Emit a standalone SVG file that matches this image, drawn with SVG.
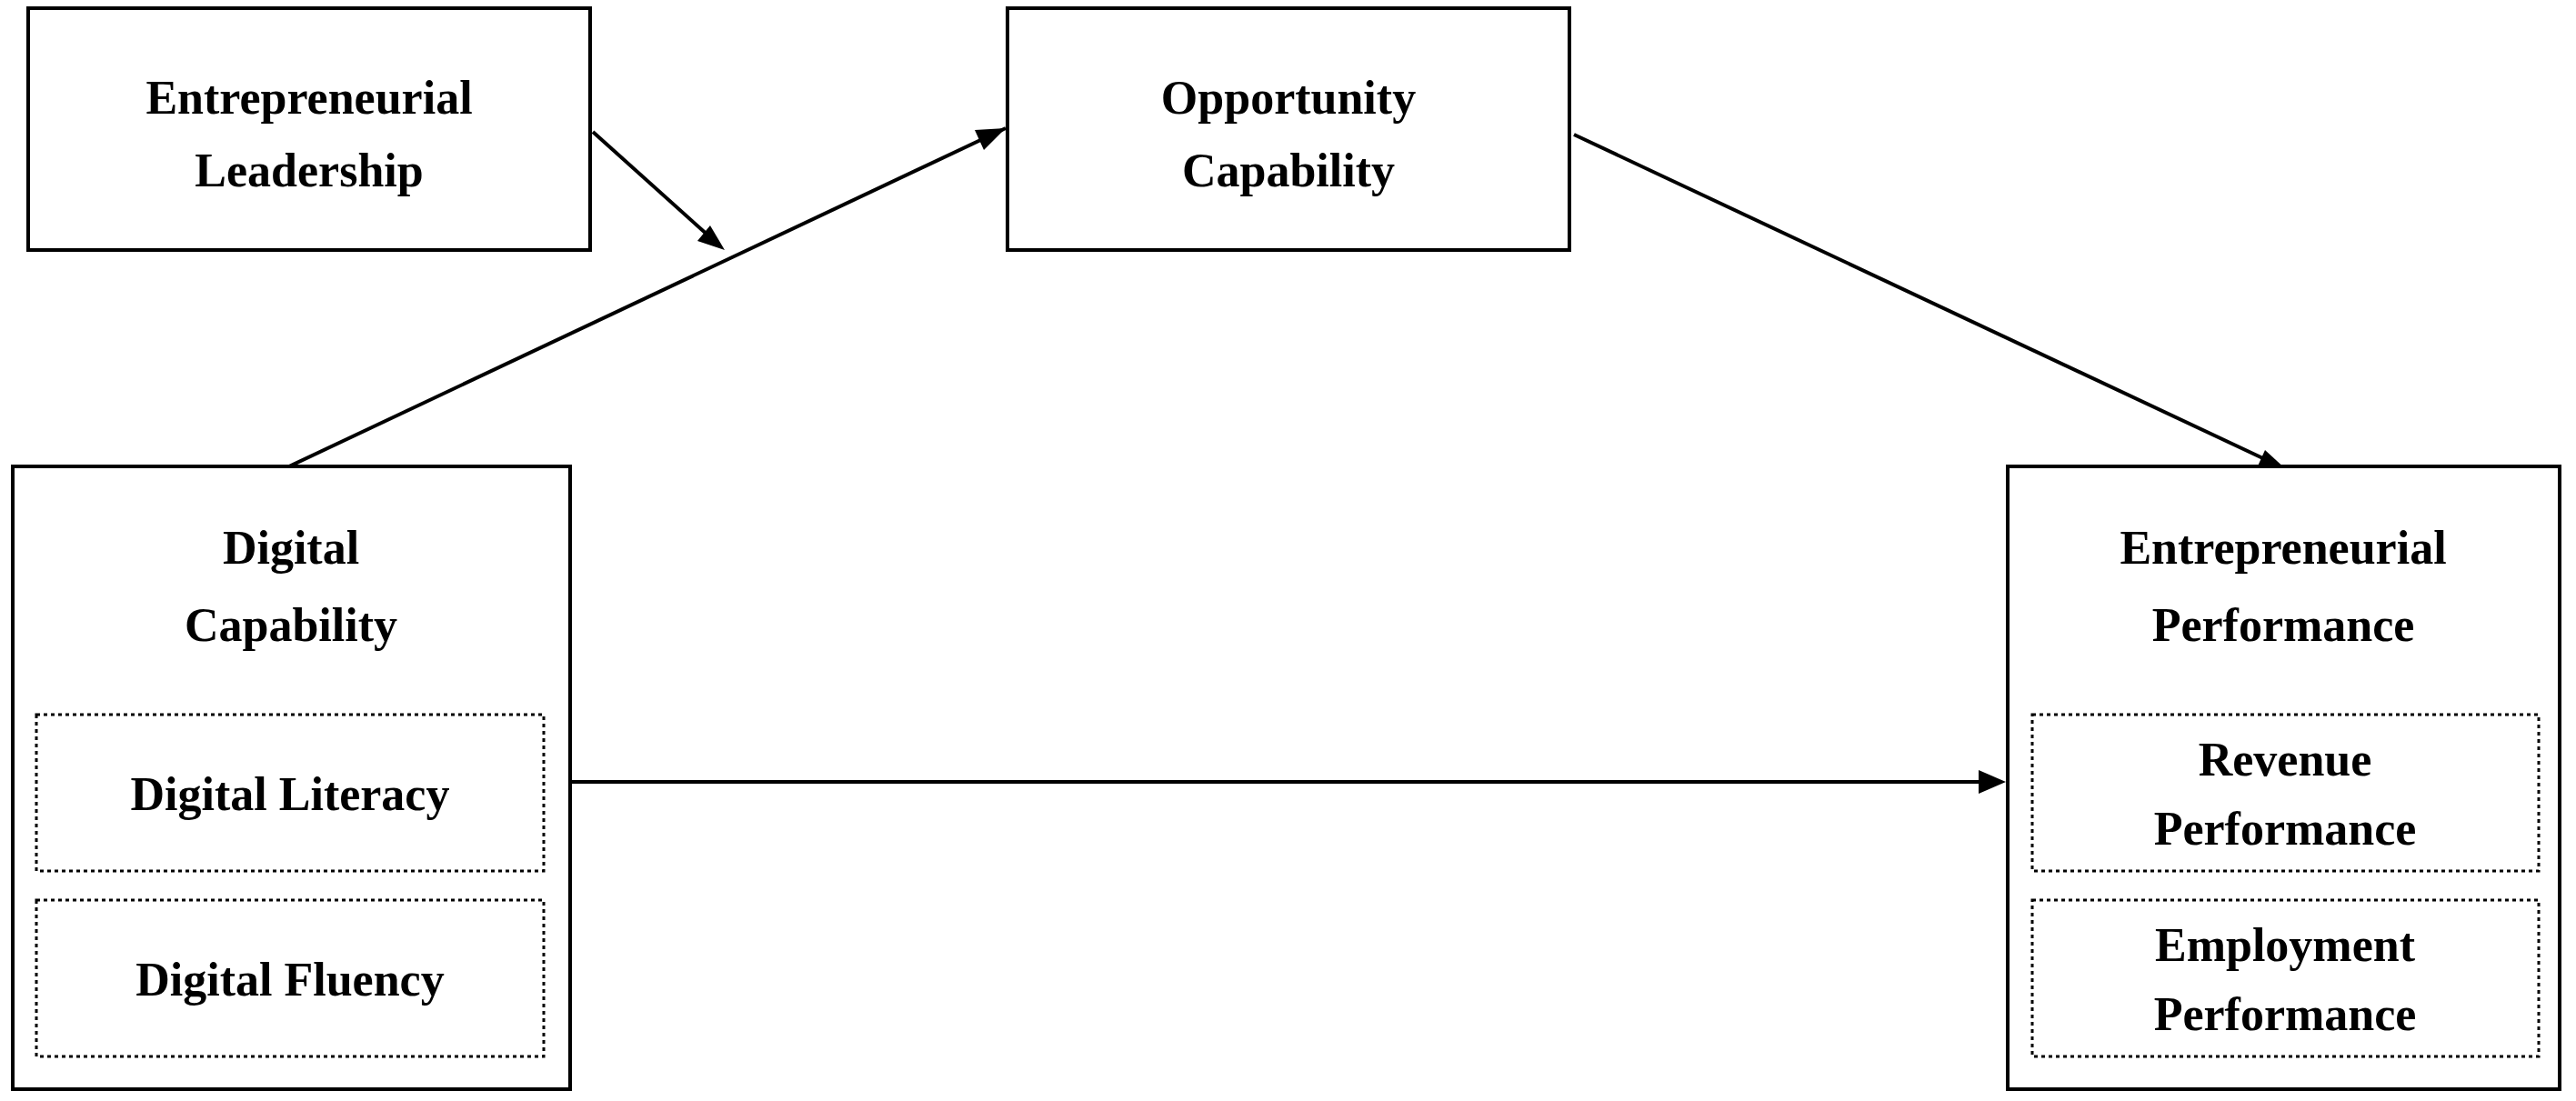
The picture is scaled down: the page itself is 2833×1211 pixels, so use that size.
<svg xmlns="http://www.w3.org/2000/svg" width="2833" height="1211" viewBox="0 0 2833 1211">
<style>
.b{fill:#fff;stroke:#000;stroke-width:4}
.d{fill:none;stroke:#000;stroke-width:3;stroke-dasharray:4 4}
text{font-family:"Liberation Serif","Times New Roman",serif;font-weight:bold;font-size:52px;text-anchor:middle;fill:#000}
.c{stroke:#000;stroke-width:4;fill:none;marker-end:url(#a)}
</style>
<defs><marker id="a" markerWidth="10" markerHeight="8" refX="9" refY="4" orient="auto" markerUnits="userSpaceOnUse" viewBox="0 0 10 8"><path d="M0,0L10,4L0,8z" fill="#000"/></marker></defs>
<rect width="2833" height="1211" fill="#fff"/>
<g id="connectors">
<line class="c" x1="318" y1="513" x2="1106" y2="141" style="marker-end:none"/>
<path d="M1106,141 l-34,2 l10,22z" fill="#000"/>
<line x1="652" y1="145" x2="780" y2="260" stroke="#000" stroke-width="4"/>
<path d="M797,275 l-30,-10 l14,-17z" fill="#000"/>
<line x1="1731" y1="148" x2="2495" y2="507" stroke="#000" stroke-width="4"/>
<path d="M2515,517 l-34,0 l10,-22z" fill="#000"/>
<line x1="629" y1="860" x2="2180" y2="860" stroke="#000" stroke-width="4"/>
<path d="M2206,860 l-30,-13 l0,26z" fill="#000"/>
</g>
<g id="el"><rect class="b" x="31" y="9" width="618" height="266"/><text x="340" y="125">Entrepreneurial</text><text x="340" y="205">Leadership</text></g>
<g id="oc"><rect class="b" x="1108" y="9" width="618" height="266"/><text x="1417" y="125">Opportunity</text><text x="1417" y="205">Capability</text></g>
<g id="dc"><rect class="b" x="14" y="513" width="613" height="685"/><text x="320" y="620">Digital</text><text x="320" y="705">Capability</text></g>
<g id="dl"><rect class="d" x="40" y="786" width="558" height="172"/><text x="319" y="891">Digital Literacy</text></g>
<g id="df"><rect class="d" x="40" y="990" width="558" height="172"/><text x="319" y="1095">Digital Fluency</text></g>
<g id="ep"><rect class="b" x="2208" y="513" width="607" height="685"/><text x="2511" y="620">Entrepreneurial</text><text x="2511" y="705">Performance</text></g>
<g id="rp"><rect class="d" x="2235" y="786" width="557" height="172"/><text x="2513" y="853">Revenue</text><text x="2513" y="929">Performance</text></g>
<g id="emp"><rect class="d" x="2235" y="990" width="557" height="172"/><text x="2513" y="1057">Employment</text><text x="2513" y="1133">Performance</text></g>
</svg>
